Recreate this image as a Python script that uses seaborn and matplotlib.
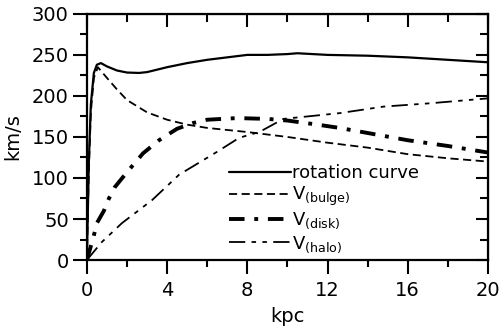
import numpy as np
import matplotlib
matplotlib.use('Agg')
import matplotlib.pyplot as plt
import matplotlib.ticker as ticker
import seaborn as sns

# values (kpc, km/s)
rot_x = [0, 0.1, 0.2, 0.35, 0.5, 0.7, 1, 1.5, 2, 2.6, 3, 4, 5, 6, 7, 8, 9, 10, 10.5, 12, 14, 16, 18, 20]
rot_v = [0, 120, 190, 228, 238, 240, 236, 231, 228.5, 228, 229, 235, 240, 244, 247, 250, 250, 251, 252, 250, 249, 247, 244, 241]

bulge_x = [0, 0.1, 0.2, 0.35, 0.55, 1, 1.5, 2, 3, 4, 5, 6, 8, 10, 12, 14, 16, 18, 20]
bulge_v = [0, 110, 180, 222, 235, 222, 208, 195, 180, 171, 165, 161, 156, 150, 143, 137, 129, 124, 120]

disk_x = [0, 0.33, 0.5, 0.85, 1.1, 1.4, 2, 2.8, 3.6, 4.5, 5.3, 6, 7.5, 9, 10, 11.5, 12.6, 16, 18, 20]
disk_v = [0, 28, 45, 60, 75, 89, 107, 130, 146, 160, 167, 171, 173, 172, 170, 165, 161, 146, 139, 131]

halo_x = [0, 0.75, 1.75, 3.25, 4.6, 6.5, 7.6, 8.6, 9.8, 12.6, 14.8, 17.1, 20]
halo_v = [0, 22, 45, 73, 104, 132, 149, 156, 172, 179, 187, 191, 197]

labels = ['rotation curve', r'V$_{\mathregular{(bulge)}}$', r'V$_{\mathregular{(disk)}}$', r'V$_{\mathregular{(halo)}}$']

sns.set_style('ticks', {'axes.edgecolor': 'black', 'text.color': 'black',
                        'xtick.color': 'black', 'ytick.color': 'black', 'axes.labelcolor': 'black'})
plt.rcParams['font.family'] = ['DejaVu Sans']
plt.rcParams['mathtext.fontset'] = 'dejavusans'

fig = plt.figure(figsize=(5.02, 3.30), dpi=100)
ax = fig.add_axes([0.173, 0.212, 0.799, 0.746])

sns.lineplot(x=rot_x, y=rot_v, ax=ax, color='k', lw=1.6, label=labels[0], sort=False)
sns.lineplot(x=bulge_x, y=bulge_v, ax=ax, color='k', lw=1.3, linestyle=(0, (4.5, 2.5)), label=labels[1], sort=False)
sns.lineplot(x=disk_x, y=disk_v, ax=ax, color='k', lw=2.8, linestyle=(0, (4, 2.5, 1, 2.5)), label=labels[2], sort=False)
sns.lineplot(x=halo_x, y=halo_v, ax=ax, color='k', lw=1.3, linestyle=(0, (9, 3.5, 2.5, 3.5, 2.5, 3.5)), label=labels[3], sort=False)

ax.set_xlim(0, 20)
ax.set_ylim(0, 300)
ax.xaxis.set_major_locator(ticker.MultipleLocator(4))
ax.xaxis.set_minor_locator(ticker.MultipleLocator(2))
ax.yaxis.set_major_locator(ticker.MultipleLocator(50))
ax.yaxis.set_minor_locator(ticker.MultipleLocator(25))
ax.tick_params(which='major', direction='out', length=10, width=1.5, labelsize=14)
ax.tick_params(axis='y', which='major', pad=3)
ax.tick_params(axis='x', which='major', pad=5)
ax.tick_params(which='minor', direction='out', length=5, width=1.5)
for sp in ax.spines.values():
    sp.set_visible(True)
    sp.set_linewidth(1.6)

# mirrored ticks pointing inwards on top and right
top = ax.secondary_xaxis('top')
top.xaxis.set_major_locator(ticker.MultipleLocator(4))
top.xaxis.set_minor_locator(ticker.MultipleLocator(2))
top.tick_params(which='major', direction='in', length=9, width=1.5, labeltop=False)
top.tick_params(which='minor', direction='in', length=6, width=1.5)
right = ax.secondary_yaxis('right')
right.yaxis.set_major_locator(ticker.MultipleLocator(50))
right.yaxis.set_minor_locator(ticker.MultipleLocator(25))
right.tick_params(which='major', direction='in', length=9, width=1.5, labelright=False)
right.tick_params(which='minor', direction='in', length=6, width=1.5)

ax.set_xlabel('kpc', fontsize=14, labelpad=5)
ax.set_ylabel('km/s', fontsize=14, labelpad=7)

ax.legend(loc='upper left', bbox_to_anchor=(0.355, 0.39), frameon=False, fontsize=13,
          handlelength=3.4, handletextpad=0.1, labelspacing=0.15, borderpad=0, borderaxespad=0)

fig.savefig('out.png', dpi=100)
